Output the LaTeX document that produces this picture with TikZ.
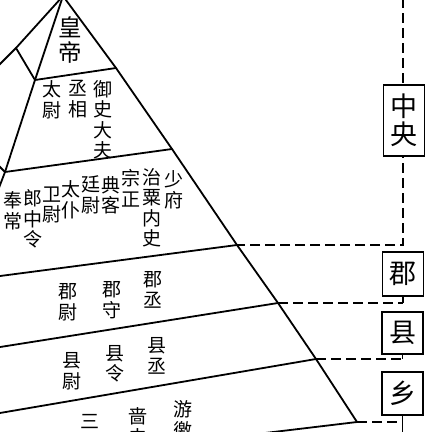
\documentclass[tikz,border=0pt]{standalone}
\usepackage{fontspec}
\newfontfamily\cjk{Noto Sans CJK SC}
\begin{document}
\begin{tikzpicture}[x=1pt,y=-1pt,
  edge/.style={line width=1.8pt, line join=round, line cap=round},
  dashline/.style={line width=1.8pt, dash pattern=on 10pt off 5pt},
  tick/.style={line width=1.8pt},
  vt/.style={font=\cjk\fontsize{19}{20.5}\selectfont, align=center, inner sep=0pt},
  big/.style={font=\cjk\fontsize{23.5}{25}\selectfont, align=center, inner sep=0pt},
  lvl/.style={draw, line width=1.8pt, fill=white, font=\cjk\fontsize{27}{28}\selectfont,
    align=center, inner sep=0pt, minimum width=41pt}]
\useasboundingbox (0,0) rectangle (428,432);
\clip (0,0) rectangle (428,432);
% pyramid points
\coordinate (A) at (63,-4);
\coordinate (L1) at (16,48);
\coordinate (L0) at (-3,67);
\coordinate (P1) at (35,80);
\coordinate (P2) at (5,172);
\coordinate (P3) at (-3,193);
\coordinate (Q1) at (116,68);
\coordinate (Q2) at (172,149);
\coordinate (Q3) at (237,245);
\coordinate (Q4) at (278,303);
\coordinate (Q5) at (316,359);
\coordinate (Q6) at (357,422);
\coordinate (B) at (240,436);
\coordinate (E3) at (-3,276.4);
\coordinate (E4) at (-3,347.5);
\coordinate (E5) at (-3,413.5);
\coordinate (E2) at (-3,164);
% outline
\draw[edge] (L0) -- (L1) -- (A) -- (Q1) -- (Q2) -- (Q3) -- (Q4) -- (Q5) -- (Q6) -- (B);
\draw[edge] (A) -- (P1) -- (P2) -- (P3);
\draw[edge] (L1) -- (P1) -- (Q1);
\draw[edge] (E2) -- (P2) -- (Q2);
\draw[edge] (E3) -- (Q3);
\draw[edge] (E4) -- (Q4);
\draw[edge] (E5) -- (Q5);
% texts
\node[big] (hd) at (70,40) {皇\\帝};
\node[vt] (tw) at (52,100) {太\\尉};
\node[vt] (cx) at (78,99) {丞\\相};
\node[vt] (ys) at (103,120) {御\\史\\大\\夫};
\node[vt] (fc) at (13,211) {奉\\常};
\node[vt] (lz) at (33,219) {郎\\中\\令};
\node[vt] (ww) at (52,205) {卫\\尉};
\node[vt] (tp) at (71,200) {太\\仆};
\node[vt] (tyw) at (91,195) {廷\\尉};
\node[vt] (dk) at (111,195) {典\\客};
\node[vt] (zz) at (131,188) {宗\\正};
\node[vt] (zs) at (152,208) {治\\粟\\内\\史};
\node[vt] (sf) at (174,190) {少\\府};
\node[vt] (jw) at (68,302) {郡\\尉};
\node[vt] (js) at (112,300) {郡\\守};
\node[vt] (jc) at (153,290) {郡\\丞};
\node[vt] (xw) at (72,371) {县\\尉};
\node[vt] (xl) at (115,364) {县\\令};
\node[vt] (xc) at (157,356) {县\\丞};
\node[vt] (sl) at (90,422) {三};
\node[vt] (sef) at (138,427) {啬\\夫};
\node[vt] (yj) at (183,420) {游\\徼};
% level boxes
\coordinate (top) at (403,-2);
\coordinate (C1) at (403,245);
\draw[dashline] (top) -- (C1) -- (Q3);
\node[lvl, minimum height=71pt] (zy) at (404,120.5) {中\\央};
\node[lvl, minimum height=44pt] (jun) at (403,274) {郡};
\node[lvl, minimum height=42pt] (xian) at (402.5,333) {县};
\node[lvl, minimum height=43pt] (xiang) at (402.5,393.5) {乡};
\coordinate (C2) at (jun.south |- Q4);
\coordinate (C3) at (xian.south |- Q5);
\coordinate (C4) at (xiang.south |- Q6);
\coordinate (C5) at (402.5,434);
\draw[dashline] (Q4) -- (C2);
\draw[dashline] (Q5) -- (C3);
\draw[dashline] (Q6) -- (C4);
\draw[tick] (jun.south) -- (C2);
\draw[tick] (xian.south) -- (C3);
\draw[tick] (xiang.south) -- (C5);
\end{tikzpicture}
\end{document}
